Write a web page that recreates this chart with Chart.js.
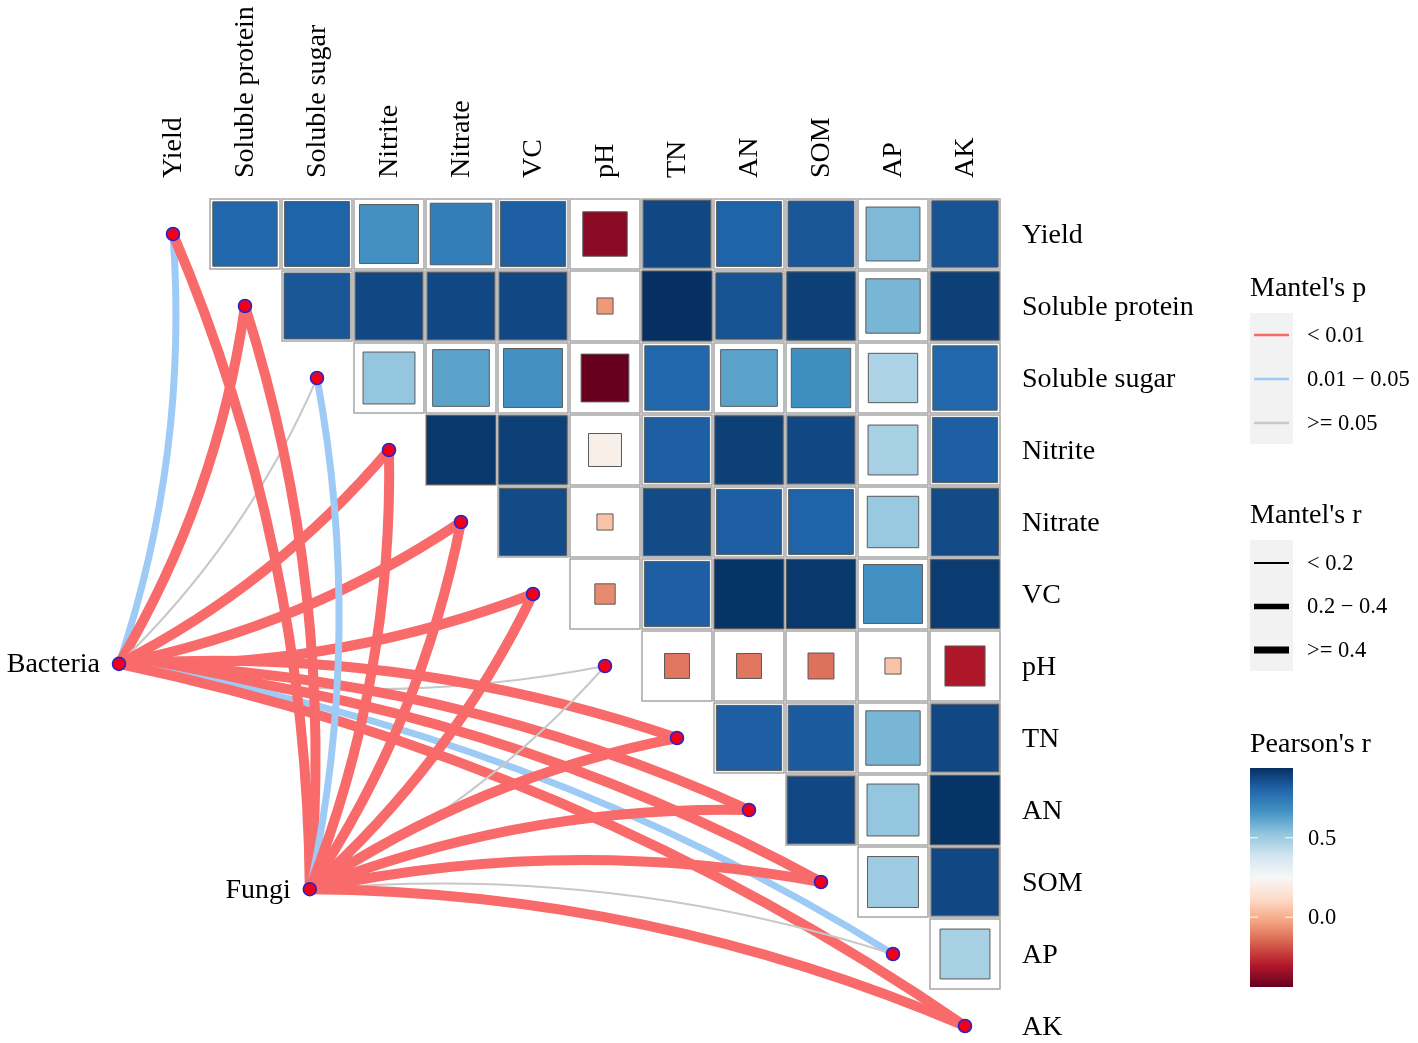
<!DOCTYPE html>
<html>
<head>
<meta charset="utf-8">
<title>Mantel test and Pearson correlation</title>
<script src="https://cdn.jsdelivr.net/npm/chart.js@4.4.0/dist/chart.umd.min.js"></script>
<style>
  html, body { margin: 0; padding: 0; background: #fff; }
  #chart { display: block; }
</style>
</head>
<body>
<canvas id="chart" width="1418" height="1043"></canvas>
<script>
// Variables, in row order (top to bottom) and column order (left to right)
const variables = ['Yield', 'Soluble protein', 'Soluble sugar', 'Nitrite', 'Nitrate', 'VC', 'pH', 'TN', 'AN', 'SOM', 'AP', 'AK'];

// Pearson's r, upper triangle: each row holds the columns right of the diagonal
const rYield = [0.80, 0.81, 0.67, 0.73, 0.82, -0.38, 0.88, 0.81, 0.84, 0.56, 0.85];
const rSolubleProtein = [0.84, 0.88, 0.88, 0.88, -0.05, 0.94, 0.85, 0.90, 0.57, 0.90];
const rSolubleSugar = [0.52, 0.62, 0.67, -0.44, 0.80, 0.62, 0.68, 0.47, 0.80];
const rNitrite = [0.92, 0.90, 0.21, 0.82, 0.90, 0.88, 0.48, 0.82];
const rNitrate = [0.87, 0.05, 0.87, 0.82, 0.81, 0.51, 0.87];
const rVC = [-0.08, 0.82, 0.93, 0.92, 0.67, 0.91];
const rPH = [-0.12, -0.12, -0.13, 0.05, -0.31];
const rTN = [0.82, 0.83, 0.57, 0.88];
const rAN = [0.88, 0.52, 0.93];
const rSOM = [0.50, 0.88];
const rAP = [0.48];
const pearsonRows = [rYield, rSolubleProtein, rSolubleSugar, rNitrite, rNitrate, rVC, rPH, rTN, rAN, rSOM, rAP];

// Mantel test links (class index per variable, same order as variables)
const species = ['Bacteria', 'Fungi'];
const pLevels = ['< 0.01', '0.01 \u2212 0.05', '>= 0.05'];
const rLevels = ['< 0.2', '0.2 \u2212 0.4', '>= 0.4'];
const bacteriaP = [1, 0, 2, 0, 0, 0, 2, 0, 0, 0, 1, 0];
const bacteriaR = [1, 2, 0, 2, 2, 2, 0, 2, 2, 2, 1, 2];
const fungiP = [0, 0, 1, 0, 0, 0, 2, 0, 0, 0, 2, 0];
const fungiR = [2, 2, 1, 2, 2, 2, 0, 2, 2, 2, 0, 2];
const colorbarTicks = [0.0, 0.5];

// Layout
const W = 1418, H = 1043;
const CELL = 72, ORIGIN_X = 173, ORIGIN_Y = 234;
const speciesPos = [{ x: -0.75, y: 5.97 }, { x: 1.9, y: 9.1 }];
const CURVATURE = 0.1;
const FONT = '"Liberation Serif", "Times New Roman", serif';
const TITLE_SIZE = '28px ', LABEL_SIZE = '22.5px ';

// Styles
const rdbu = ['#67001F', '#B2182B', '#D6604D', '#F4A582', '#FDDBC7', '#F7F7F7',
              '#D1E5F0', '#92C5DE', '#4393C3', '#2166AC', '#053061'];
const pColours = ['#F96A6A', '#9DCBF5', '#C8C8C8'];
const linkWidths = [2, 7, 10];
const legendWidths = [2, 5.5, 7];

// Build cells from the rows
const cells = [];
pearsonRows.forEach((row, i) => {
  row.forEach((v, k) => cells.push({ x: i + 1 + k, y: i, r: v }));
});
const allR = cells.map(c => c.r);
const rMin = Math.min(...allR), rMax = Math.max(...allR);

const nodes = variables.map((v, i) => ({ x: i, y: i }))
  .concat(speciesPos.map(p => ({ x: p.x, y: p.y })));

function hexToRgb(h) {
  const n = parseInt(h.slice(1), 16);
  return [(n >> 16) & 255, (n >> 8) & 255, n & 255];
}
const rdbuRgb = rdbu.map(hexToRgb);

function fillFor(v) {
  const t = Math.min(1, Math.max(0, (v - rMin) / (rMax - rMin))) * (rdbuRgb.length - 1);
  const i = Math.min(Math.floor(t), rdbuRgb.length - 2), f = t - i;
  const a = rdbuRgb[i], b = rdbuRgb[i + 1];
  return 'rgb(' + a.map((c, k) => Math.round(c + (b[k] - c) * f)).join(',') + ')';
}

function cellPx(chart) {
  const sx = chart.scales.x;
  return sx ? Math.abs(sx.getPixelForValue(1) - sx.getPixelForValue(0)) : CELL;
}

// Mantel curves, drawn under the points
const mantelLinks = {
  id: 'mantelLinks',
  beforeDatasetsDraw(chart) {
    const { ctx, scales: { x, y } } = chart;
    const sets = [[bacteriaP, bacteriaR], [fungiP, fungiR]];
    ctx.save();
    ctx.lineCap = 'butt';
    sets.forEach(([pc, rc], s) => {
      const x0 = x.getPixelForValue(speciesPos[s].x), y0 = y.getPixelForValue(speciesPos[s].y);
      variables.forEach((v, j) => {
        const x1 = x.getPixelForValue(j), y1 = y.getPixelForValue(j);
        const dx = x1 - x0, dy = y1 - y0;
        const sign = j <= 6 ? 1 : -1;
        const cx = (x0 + x1) / 2 - sign * CURVATURE * dy;
        const cy = (y0 + y1) / 2 + sign * CURVATURE * dx;
        ctx.beginPath();
        ctx.moveTo(x0, y0);
        ctx.quadraticCurveTo(cx, cy, x1, y1);
        ctx.strokeStyle = pColours[pc[j]];
        ctx.lineWidth = linkWidths[rc[j]];
        ctx.stroke();
      });
    });
    ctx.restore();
  }
};

// Labels and legends
const textLayer = {
  id: 'textLayer',
  afterDatasetsDraw(chart) {
    const { ctx, scales: { x, y } } = chart;
    ctx.save();
    ctx.fillStyle = '#000';
    ctx.font = TITLE_SIZE + FONT;
    ctx.textBaseline = 'middle';

    // column labels
    const top = y.getPixelForValue(0) - 56;
    variables.forEach((v, i) => {
      ctx.save();
      ctx.translate(x.getPixelForValue(i) + 1, top);
      ctx.rotate(-Math.PI / 2);
      ctx.textAlign = 'left';
      ctx.fillText(v, 0, 0);
      ctx.restore();
    });
    // row labels
    const right = x.getPixelForValue(variables.length - 1) + 57;
    ctx.textAlign = 'left';
    variables.forEach((v, i) => ctx.fillText(v, right, y.getPixelForValue(i) + 2));
    // species labels
    ctx.textAlign = 'right';
    species.forEach((s, i) => {
      ctx.fillText(s, x.getPixelForValue(speciesPos[i].x) - 19, y.getPixelForValue(speciesPos[i].y) + 1);
    });

    // legend: Mantel's p
    const lx = 1250, kw = 43;
    ctx.textAlign = 'left';
    ctx.fillText("Mantel's p", lx, 289);
    ctx.fillStyle = '#F2F2F2';
    ctx.fillRect(lx, 313, kw, 131);
    pLevels.forEach((lab, i) => {
      const yy = 335 + 44 * i;
      ctx.strokeStyle = pColours[i];
      ctx.lineWidth = 2.5;
      ctx.beginPath(); ctx.moveTo(lx + 4, yy); ctx.lineTo(lx + kw - 4, yy); ctx.stroke();
      ctx.fillStyle = '#000';
      ctx.font = LABEL_SIZE + FONT;
      ctx.fillText(lab, 1307, yy + 1);
    });

    // legend: Mantel's r
    ctx.font = TITLE_SIZE + FONT;
    ctx.fillText("Mantel's r", lx, 516);
    ctx.fillStyle = '#F2F2F2';
    ctx.fillRect(lx, 540, kw, 131);
    rLevels.forEach((lab, i) => {
      const yy = 563 + 43.5 * i;
      ctx.strokeStyle = '#000';
      ctx.lineWidth = legendWidths[i];
      ctx.beginPath(); ctx.moveTo(lx + 4, yy); ctx.lineTo(lx + kw - 4, yy); ctx.stroke();
      ctx.fillStyle = '#000';
      ctx.font = LABEL_SIZE + FONT;
      ctx.fillText(lab, 1307, yy + 1);
    });

    // legend: Pearson's r colour bar
    ctx.font = TITLE_SIZE + FONT;
    ctx.fillText("Pearson's r", lx, 745);
    const cbTop = 768, cbBottom = 987;
    const grad = ctx.createLinearGradient(0, cbBottom, 0, cbTop);
    rdbu.forEach((c, i) => grad.addColorStop(i / (rdbu.length - 1), c));
    ctx.fillStyle = grad;
    ctx.fillRect(lx, cbTop, kw, cbBottom - cbTop);
    ctx.font = LABEL_SIZE + FONT;
    colorbarTicks.forEach(t => {
      const yy = cbBottom - (t - rMin) / (rMax - rMin) * (cbBottom - cbTop);
      ctx.strokeStyle = '#fff';
      ctx.lineWidth = 1;
      ctx.beginPath();
      ctx.moveTo(lx, yy); ctx.lineTo(lx + 8, yy);
      ctx.moveTo(lx + kw - 8, yy); ctx.lineTo(lx + kw, yy);
      ctx.stroke();
      ctx.fillStyle = '#000';
      ctx.fillText(t.toFixed(1), 1308, yy + 1);
    });
    ctx.restore();
  }
};

new Chart(document.getElementById('chart'), {
  type: 'scatter',
  data: {
    datasets: [
      {
        label: 'nodes',
        order: 1,
        data: nodes,
        pointStyle: 'circle',
        pointRadius: 6.5,
        backgroundColor: '#F2001A',
        borderColor: '#2626C8',
        borderWidth: 1.6
      },
      {
        label: "Pearson's r",
        order: 2,
        data: cells.map(c => ({ ...c })),
        pointStyle: 'rect',
        pointRadius: ctx => ctx.raw ? Math.sqrt(Math.abs(ctx.raw.r)) * cellPx(ctx.chart) / Math.SQRT2 : 0,
        backgroundColor: ctx => ctx.raw ? fillFor(ctx.raw.r) : '#fff',
        borderColor: '#5A5A5A',
        borderWidth: 1
      },
      {
        label: 'cells',
        order: 3,
        data: cells.map(c => ({ ...c })),
        pointStyle: 'rect',
        pointRadius: ctx => (cellPx(ctx.chart) - 2) / Math.SQRT2,
        backgroundColor: '#fff',
        borderColor: '#A6A6A6',
        borderWidth: 1.5
      }
    ]
  },
  options: {
    responsive: false,
    animation: false,
    events: [],
    layout: { padding: 0, autoPadding: false },
    plugins: { legend: { display: false }, tooltip: { enabled: false } },
    scales: {
      x: { type: 'linear', display: false, min: -ORIGIN_X / CELL, max: (W - ORIGIN_X) / CELL },
      y: { type: 'linear', display: false, reverse: true, min: -ORIGIN_Y / CELL, max: (H - ORIGIN_Y) / CELL }
    }
  },
  plugins: [mantelLinks, textLayer]
});
</script>
</body>
</html>
